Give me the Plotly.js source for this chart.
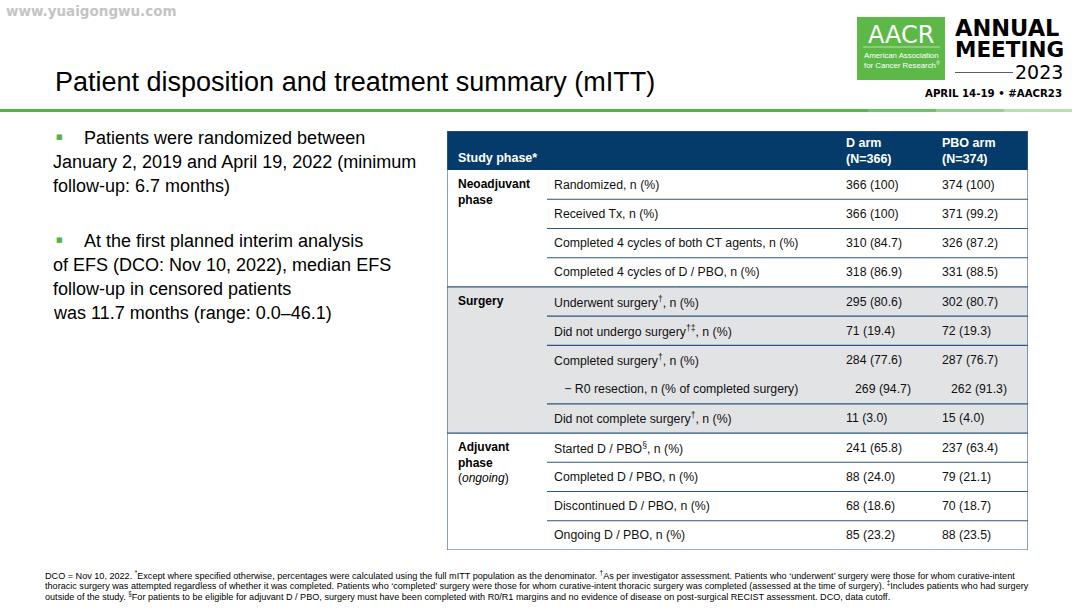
<!DOCTYPE html>
<html>
<head>
<meta charset="utf-8">
<script src="https://cdn.plot.ly/plotly-3.0.1.min.js"></script>
<style>html,body{margin:0;padding:0;background:#fff;}#chart{width:1080px;height:608px;}</style>
</head>
<body>
<div id="chart"></div>
<script>
// ---------- DATA ----------
const phases = ["<b>Neoadjuvant</b><br><b>phase</b>", "<b>Surgery</b>", "<b>Adjuvant</b><br><b>phase</b><br>(<i>ongoing</i>)"];
const phaseRowCounts = [4, 5, 4];
const items = [
  "Randomized, n (%)",
  "Received Tx, n (%)",
  "Completed 4 cycles of both CT agents, n (%)",
  "Completed 4 cycles of D / PBO, n (%)",
  "Underwent surgery<sup>†</sup>, n (%)",
  "Did not undergo surgery<sup>†‡</sup>, n (%)",
  "Completed surgery<sup>†</sup>, n (%)",
  "   − R0 resection, n (% of completed surgery)",
  "Did not complete surgery<sup>†</sup>, n (%)",
  "Started D / PBO<sup>§</sup>, n (%)",
  "Completed D / PBO, n (%)",
  "Discontinued D / PBO, n (%)",
  "Ongoing D / PBO, n (%)"
];
const subRows = [false,false,false,false,false,false,false,true,false,false,false,false,false];
const dArm = ["366 (100)","366 (100)","310 (84.7)","318 (86.9)","295 (80.6)","71 (19.4)","284 (77.6)","269 (94.7)","11 (3.0)","241 (65.8)","88 (24.0)","68 (18.6)","85 (23.2)"];
const pboArm = ["374 (100)","371 (99.2)","326 (87.2)","331 (88.5)","302 (80.7)","72 (19.3)","287 (76.7)","262 (91.3)","15 (4.0)","237 (63.4)","79 (21.1)","70 (18.7)","88 (23.5)"];
const headerCols = ["<b>Study phase*</b>", "<b>D arm</b><br><b>(N=366)</b>", "<b>PBO arm</b><br><b>(N=374)</b>"];
const bullets = [
  "Patients were randomized between<br>January 2, 2019 and April 19, 2022 (minimum<br>follow-up: 6.7 months)",
  "At the first planned interim analysis<br>of EFS (DCO: Nov 10, 2022), median EFS<br>follow-up in censored patients<br>was 11.7 months (range: 0.0–46.1)"
];
const titleText = "Patient disposition and treatment summary (mITT)";
const footnotes = [
  "DCO = Nov 10, 2022. <sup>*</sup>Except where specified otherwise, percentages were calculated using the full mITT population as the denominator. <sup>†</sup>As per investigator assessment. Patients who ‘underwent’ surgery were those for whom curative-intent",
  "thoracic surgery was attempted regardless of whether it was completed. Patients who ‘completed’ surgery were those for whom curative-intent thoracic surgery was completed (assessed at the time of surgery). <sup>‡</sup>Includes patients who had surgery",
  "outside of the study. <sup>§</sup>For patients to be eligible for adjuvant D / PBO, surgery must have been completed with R0/R1 margins and no evidence of disease on post-surgical RECIST assessment. DCO, data cutoff."
];

// ---------- LAYOUT CONSTANTS ----------
const W = 1080, H = 608;
const FONT = "Liberation Sans, Arial, sans-serif";
const px = x => x / W;
const py = y => 1 - y / H;
const T = {left: 447, right: 1028, top: 131, bottom: 550, headerH: 39};
const nRows = items.length;
const rowH = (T.bottom - T.top - T.headerH) / nRows;
const hdrTop = -T.headerH / rowH;
const colX = {phase: 456, item: 552, d: 844, pbo: 940, sep: 547, subOff: 9};
const NAVY = "#053b6b", SEP = "#2a5584", GRAY = "#e2e3e5";
const TS = 12.3;

const shapes = [];
const ann = [];

// Table header
shapes.push({type:"rect", xref:"x", yref:"y", x0:T.left, x1:T.right, y0:hdrTop, y1:0, fillcolor:NAVY, line:{width:0}, layer:"below"});
// Section backgrounds & phase labels
let start = 0;
phaseRowCounts.forEach((n, k) => {
  if (k === 1) shapes.push({type:"rect", xref:"x", yref:"y", x0:T.left, x1:T.right, y0:start, y1:start+n, fillcolor:GRAY, line:{width:0}, layer:"below"});
  ann.push({xref:"x", yref:"y", x:colX.phase, y:start + 0.17, xanchor:"left", yanchor:"top", align:"left", showarrow:false,
    text:phases[k], font:{family:FONT, size:12, color:"#000"}});
  if (start > 0) shapes.push({type:"line", xref:"x", yref:"y", x0:T.left, x1:T.right, y0:start, y1:start, line:{color:SEP, width:1.3}});
  for (let r = start + 1; r < start + n; r++) {
    if (!subRows[r]) shapes.push({type:"line", xref:"x", yref:"y", x0:colX.sep, x1:T.right, y0:r, y1:r, line:{color:SEP, width:1.1}});
  }
  start += n;
});
// Rows
items.forEach((t, i) => {
  const off = subRows[i] ? colX.subOff : 0;
  ann.push({xref:"x", yref:"y", x:colX.item, y:i+0.5, xanchor:"left", yanchor:"middle", showarrow:false, text:t, font:{family:FONT, size:TS, color:"#111"}});
  ann.push({xref:"x", yref:"y", x:colX.d + off, y:i+0.5, xanchor:"left", yanchor:"middle", showarrow:false, text:dArm[i], font:{family:FONT, size:TS, color:"#111"}});
  ann.push({xref:"x", yref:"y", x:colX.pbo + off, y:i+0.5, xanchor:"left", yanchor:"middle", showarrow:false, text:pboArm[i], font:{family:FONT, size:TS, color:"#111"}});
});
// Header text
ann.push({xref:"x", yref:"y", x:colX.phase, y:hdrTop*0.32, xanchor:"left", yanchor:"middle", showarrow:false, text:headerCols[0], font:{family:FONT, size:12.5, color:"#fff"}});
ann.push({xref:"x", yref:"y", x:colX.d, y:hdrTop*0.5, xanchor:"left", yanchor:"middle", align:"left", showarrow:false, text:headerCols[1], font:{family:FONT, size:12.5, color:"#fff"}});
ann.push({xref:"x", yref:"y", x:colX.pbo, y:hdrTop*0.5, xanchor:"left", yanchor:"middle", align:"left", showarrow:false, text:headerCols[2], font:{family:FONT, size:12.5, color:"#fff"}});
// Outer border
shapes.push({type:"rect", xref:"x", yref:"y", x0:T.left, x1:T.right, y0:hdrTop, y1:nRows, line:{color:"#3b638f", width:1.2}, fillcolor:"rgba(0,0,0,0)"});

// ---------- SLIDE DECORATION ----------
// watermark
ann.push({xref:"paper", yref:"paper", x:px(4), y:py(11), xanchor:"left", yanchor:"middle", showarrow:false, text:"<b>www.yuaigongwu.com</b>", font:{family:"DejaVu Sans, sans-serif", size:13.5, color:"#c4c4c4"}});
// title
ann.push({xref:"paper", yref:"paper", x:px(53), y:py(82), xanchor:"left", yanchor:"middle", showarrow:false, text:titleText, font:{family:FONT, size:27, color:"#000"}});
// green divider (fading to the right)
const greens = ["#4fb548","#4fb548","#55b84e","#6fc466","#92d38b","#b6e2b1"];
greens.forEach((c, k) => {
  const x0 = k < 2 ? k*400 : 800 + (k-2)*68;
  const x1 = k < 2 ? (k+1)*400 : 800 + (k-1)*68;
  shapes.push({type:"line", xref:"paper", yref:"paper", x0:px(x0), x1:px(x1), y0:py(110.5), y1:py(110.5), line:{color:c, width:3}});
});
// AACR logo
shapes.push({type:"rect", xref:"paper", yref:"paper", x0:px(857), x1:px(945), y0:py(17), y1:py(80), fillcolor:"#5cb947", line:{width:0}});
shapes.push({type:"line", xref:"paper", yref:"paper", x0:px(863), x1:px(940), y0:py(47), y1:py(47), line:{color:"rgba(255,255,255,0.7)", width:0.8}});
ann.push({xref:"paper", yref:"paper", x:px(901), y:py(35), xanchor:"center", yanchor:"middle", showarrow:false, text:"AACR", font:{family:"DejaVu Sans, sans-serif", size:24, color:"#fff"}});
ann.push({xref:"paper", yref:"paper", x:px(862), y:py(55), xanchor:"left", yanchor:"middle", showarrow:false, text:"American Association", font:{family:FONT, size:7.8, color:"#fff"}});
ann.push({xref:"paper", yref:"paper", x:px(862), y:py(64.5), xanchor:"left", yanchor:"middle", showarrow:false, text:"for Cancer Research<sup>®</sup>", font:{family:FONT, size:7.8, color:"#fff"}});
ann.push({xref:"paper", yref:"paper", x:px(953), y:py(27.5), xanchor:"left", yanchor:"middle", height:21, showarrow:false, text:"<b>ANNUAL</b>", font:{family:"DejaVu Sans, sans-serif", size:22.5, color:"#000"}});
ann.push({xref:"paper", yref:"paper", x:px(953), y:py(49.5), xanchor:"left", yanchor:"middle", height:21, showarrow:false, text:"<b>MEETING</b>", font:{family:"DejaVu Sans, sans-serif", size:21.5, color:"#000"}});
shapes.push({type:"line", xref:"paper", yref:"paper", x0:px(955), x1:px(1013), y0:py(72.5), y1:py(72.5), line:{color:"#333", width:0.8}});
ann.push({xref:"paper", yref:"paper", x:px(1065), y:py(72), xanchor:"right", yanchor:"middle", showarrow:false, text:"2023", font:{family:"DejaVu Sans, sans-serif", size:19, color:"#000"}});
ann.push({xref:"paper", yref:"paper", x:px(1064), y:py(94), xanchor:"right", yanchor:"middle", showarrow:false, text:"<b>APRIL 14-19 • #AACR23</b>", font:{family:"DejaVu Sans, sans-serif", size:10.2, color:"#000"}});
// bullets
const bulletY = [138, 241];
bullets.forEach((b, k) => {
  ann.push({xref:"paper", yref:"paper", x:px(54), y:py(bulletY[k] - 1), xanchor:"left", yanchor:"middle", showarrow:false, text:"■", font:{family:"DejaVu Sans, sans-serif", size:7, color:"#4fb548"}});
  const lines = b.split("<br>");
  lines.forEach((ln, j) => {
    ann.push({xref:"paper", yref:"paper", x:px(j === 0 ? 82 : 51), y:py(bulletY[k] + j*24), xanchor:"left", yanchor:"middle", showarrow:false, text:ln, font:{family:FONT, size:18, color:"#000"}});
  });
});
// footnotes
footnotes.forEach((f, k) => {
  ann.push({xref:"paper", yref:"paper", x:px(43), y:py(575 + k*10.4), xanchor:"left", yanchor:"middle", showarrow:false, text:f, font:{family:FONT, size:9.1, color:"#000"}});
});

const layout = {
  width: W, height: H,
  margin: {l:0, r:0, t:0, b:0},
  paper_bgcolor: "#fff", plot_bgcolor: "rgba(0,0,0,0)",
  showlegend: false,
  xaxis: {domain:[px(T.left), px(T.right)], range:[T.left, T.right], visible:false, fixedrange:true},
  yaxis: {domain:[py(T.bottom), py(T.top)], range:[nRows, hdrTop], visible:false, fixedrange:true},
  shapes: shapes,
  annotations: ann
};
Plotly.newPlot("chart", [{type:"scatter", x:[], y:[], hoverinfo:"skip"}], layout, {displayModeBar:false, staticPlot:true});
</script>
</body>
</html>
